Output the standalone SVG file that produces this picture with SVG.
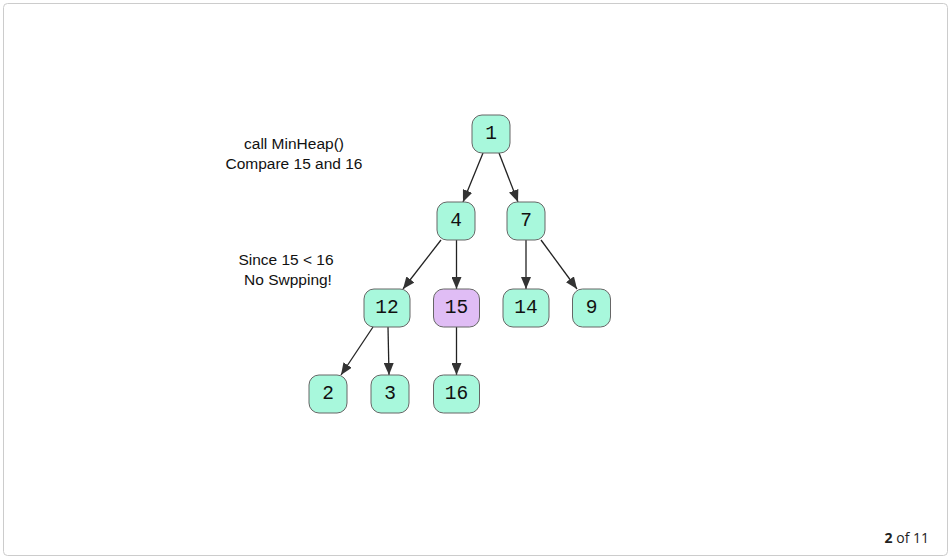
<svg xmlns="http://www.w3.org/2000/svg" width="951" height="560" viewBox="0 0 951 560">
  <defs>
    <marker id="arrow" viewBox="0 0 12 10" refX="12" refY="5" markerWidth="12" markerHeight="10" markerUnits="userSpaceOnUse" orient="auto">
      <path d="M0,0 L12,5 L0,10 Z" fill="#333"/>
    </marker>
    <style>
      .frame { fill: #fff; stroke: #ccc; stroke-width: 1; }
      .node rect { fill: #a8f8dc; stroke: #666; stroke-width: 1; }
      .node.active rect { fill: #e0bdf5; }
      .node text { font-family: "Liberation Mono", "Courier New", monospace; font-size: 19.5px; fill: #111; text-anchor: middle; dominant-baseline: central; }
      .edges line { stroke: #222; stroke-width: 1.3; marker-end: url(#arrow); }
      .note { font-family: "Liberation Sans", Arial, sans-serif; font-size: 15.5px; fill: #111; text-anchor: middle; }
      .pager { font-family: "Open Sans", "Liberation Sans", sans-serif; font-size: 14px; fill: #222; }
    </style>
  </defs>

  <rect class="frame" x="3.5" y="3.5" width="944" height="552" rx="4"/>

  <text class="note" x="294" y="149">call MinHeap()</text>
  <text class="note" x="294" y="169">Compare 15 and 16</text>
  <text class="note" x="286" y="265">Since 15 &lt; 16</text>
  <text class="note" x="288" y="285">No Swpping!</text>

  <g class="edges">
    <line x1="483" y1="153" x2="463" y2="202"/>
    <line x1="499" y1="153" x2="518" y2="202"/>
    <line x1="441" y1="240" x2="403" y2="289"/>
    <line x1="456.5" y1="240" x2="456.5" y2="289"/>
    <line x1="526" y1="240" x2="526" y2="289"/>
    <line x1="541" y1="240" x2="577" y2="289"/>
    <line x1="373" y1="327" x2="341" y2="375"/>
    <line x1="388" y1="327" x2="389" y2="375"/>
    <line x1="456.5" y1="327" x2="456.5" y2="375"/>
  </g>

  <g id="n1" class="node"><rect x="472" y="115" width="38" height="38" rx="10"/><text x="491" y="134">1</text></g>
  <g id="n4" class="node"><rect x="437" y="202" width="38" height="38" rx="10"/><text x="456" y="221">4</text></g>
  <g id="n7" class="node"><rect x="507" y="202" width="38" height="38" rx="10"/><text x="526" y="221">7</text></g>
  <g id="n12" class="node"><rect x="364" y="289" width="46" height="38" rx="10"/><text x="387" y="308">12</text></g>
  <g id="n15" class="node active"><rect x="433.5" y="289" width="46" height="38" rx="10"/><text x="456.5" y="308">15</text></g>
  <g id="n14" class="node"><rect x="503" y="289" width="46" height="38" rx="10"/><text x="526" y="308">14</text></g>
  <g id="n9" class="node"><rect x="572.5" y="289" width="38" height="38" rx="10"/><text x="591.5" y="308">9</text></g>
  <g id="n2" class="node"><rect x="309" y="375" width="38" height="38" rx="10"/><text x="328" y="394">2</text></g>
  <g id="n3" class="node"><rect x="371" y="375" width="38" height="38" rx="10"/><text x="390" y="394">3</text></g>
  <g id="n16" class="node"><rect x="433.5" y="375" width="46" height="38" rx="10"/><text x="456.5" y="394">16</text></g>

  <text class="pager" x="929" y="543" text-anchor="end"><tspan font-weight="bold">2</tspan> of 11</text>
</svg>
